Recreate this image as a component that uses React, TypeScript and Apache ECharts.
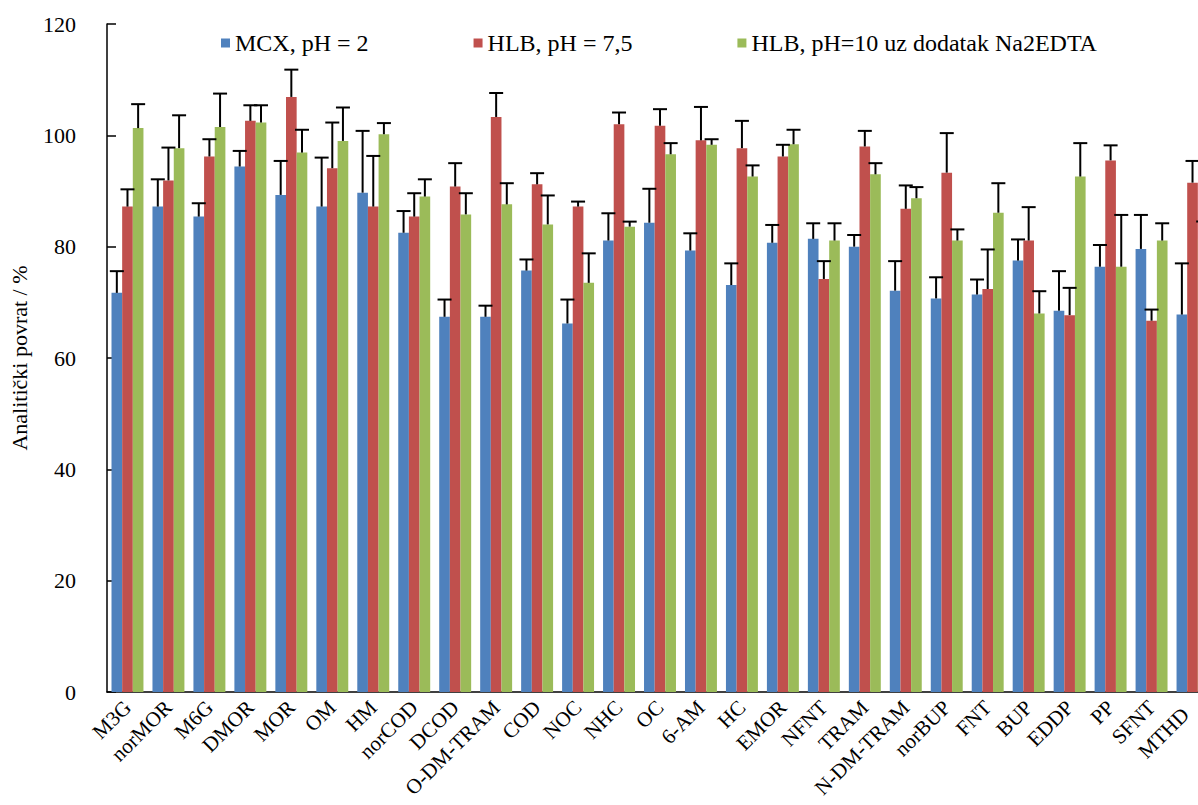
import React, { useEffect, useRef } from "react";
import * as echarts from "echarts";

const categories = ["M3G", "norMOR", "M6G", "DMOR", "MOR", "OM", "HM", "norCOD", "DCOD", "O-DM-TRAM", "COD", "NOC", "NHC", "OC", "6-AM", "HC", "EMOR", "NFNT", "TRAM", "N-DM-TRAM", "norBUP", "FNT", "BUP", "EDDP", "PP", "SFNT", "MTHD"];

const seriesNames = ["MCX, pH = 2", "HLB, pH = 7,5", "HLB, pH=10 uz dodatak Na2EDTA"];

const mcxValues = [71.7, 87.2, 85.4, 94.4, 89.3, 87.2, 89.7, 82.5, 67.4, 67.4, 75.7, 66.2, 81.1, 84.3, 79.3, 73.1, 80.7, 81.4, 80.0, 72.1, 70.7, 71.4, 77.5, 68.5, 76.4, 79.6, 67.8];
const mcxErrors = [3.9, 4.9, 2.4, 2.8, 6.1, 8.8, 11.1, 3.9, 3.1, 2.0, 2.0, 4.3, 4.9, 6.1, 3.1, 3.9, 3.2, 2.8, 2.1, 5.3, 3.8, 2.7, 3.8, 7.1, 3.9, 6.1, 9.2];

const hlb75Values = [87.2, 91.9, 96.2, 102.6, 106.9, 94.1, 87.2, 85.4, 90.8, 103.3, 91.2, 87.2, 102.0, 101.7, 99.1, 97.7, 96.2, 74.2, 98.0, 86.8, 93.3, 72.4, 81.1, 67.7, 95.5, 66.7, 91.5];
const hlb75Errors = [3.1, 5.9, 3.1, 2.8, 4.9, 8.2, 9.1, 4.2, 4.2, 4.3, 2.0, 0.9, 2.1, 3.0, 6.0, 4.9, 2.1, 3.2, 2.8, 4.2, 7.1, 7.1, 6.0, 4.9, 2.7, 2.0, 3.9];

const hlb10Values = [101.3, 97.7, 101.5, 102.3, 96.9, 99.0, 100.2, 89.0, 85.8, 87.6, 84.0, 73.5, 83.6, 96.6, 98.3, 92.6, 98.4, 81.1, 93.0, 88.7, 81.1, 86.1, 68.0, 92.6, 76.4, 81.1, 81.4];
const hlb10Errors = [4.3, 5.9, 6.0, 3.1, 4.1, 6.0, 2.0, 3.1, 3.8, 3.8, 5.2, 5.3, 0.9, 2.0, 1.0, 2.0, 2.6, 3.1, 2.0, 2.0, 2.0, 5.3, 4.0, 6.0, 9.3, 3.1, 3.1];

const colors = ["#4F81BD", "#C0504D", "#9BBB59"];
const FONT = "Liberation Serif";
const CAT_GAP = 0.22;

export default function App() {
  const ref = useRef<HTMLDivElement>(null);
  useEffect(() => {
    if (!ref.current) return;
    const chart = echarts.init(ref.current, undefined, { renderer: "svg" });
    const valueSets = [mcxValues, hlb75Values, hlb10Values];
    const errSets = [mcxErrors, hlb75Errors, hlb10Errors];

    const barSeries = valueSets.map((vals, k) => ({
      name: seriesNames[k],
      type: "bar",
      data: vals,
      barGap: "0%",
      barCategoryGap: CAT_GAP * 100 + "%",
      itemStyle: { color: colors[k] },
      z: 2,
    }));

    const errSeries = valueSets.map((vals, k) => ({
      type: "custom",
      name: "err" + k,
      z: 5,
      encode: { x: 0, y: 1 },
      data: vals.map((v, i) => [i, v, errSets[k][i]]),
      renderItem: (params: any, api: any) => {
        const idx = api.value(0);
        const v = api.value(1);
        const e = api.value(2);
        const base = api.coord([idx, v]);
        const top = api.coord([idx, v + e]);
        const band = api.size([1, 0])[0];
        const w = (band * (1 - CAT_GAP)) / 3;
        const x = base[0] + (k - 1) * w;
        const cap = 7;
        return {
          type: "group",
          children: [
            { type: "line", shape: { x1: x, y1: base[1], x2: x, y2: top[1] }, style: { stroke: "#000", lineWidth: 2 } },
            { type: "line", shape: { x1: x - cap, y1: top[1], x2: x + cap, y2: top[1] }, style: { stroke: "#000", lineWidth: 2 } },
          ],
        };
      },
    }));

    const catData = categories.map((c, i) =>
      i === categories.length - 1 ? { value: c, textStyle: { padding: [0, 10, 0, 0] } } : c
    );

    chart.setOption({
      animation: false,
      backgroundColor: "#fff",
      textStyle: { fontFamily: FONT },
      grid: { left: 107, right: -15, top: 24, bottom: 113, containLabel: false, outerBoundsMode: "none" },
      legend: {
        data: seriesNames,
        left: 216,
        top: 26,
        itemWidth: 9,
        itemHeight: 9,
        itemGap: 105,
        icon: "rect",
        textStyle: { fontFamily: FONT, fontSize: 24, color: "#000" },
      },
      xAxis: {
        type: "category",
        data: catData,
        axisLine: { show: true, lineStyle: { color: "#000", width: 1.5 } },
        axisTick: { show: false },
        axisLabel: { rotate: 45, fontSize: 21, color: "#000", fontFamily: FONT, margin: 12, interval: 0 },
      },
      yAxis: {
        type: "value",
        min: 0,
        max: 120,
        interval: 20,
        name: "Analitički povrat / %",
        nameLocation: "middle",
        nameGap: 77,
        nameTextStyle: { fontSize: 22, color: "#000", fontFamily: FONT },
        axisLine: { show: true, lineStyle: { color: "#000", width: 1.5 } },
        axisTick: { show: true, inside: true, length: 9, lineStyle: { color: "#000", width: 1.5 } },
        axisLabel: { fontSize: 22, color: "#000", fontFamily: FONT, margin: 31 },
        splitLine: { show: false },
      },
      series: [...barSeries, ...errSeries],
    });
    return () => chart.dispose();
  }, []);
  return <div ref={ref} style={{ position: "fixed", left: 0, top: 0, width: 1198, height: 805 }} />;
}
